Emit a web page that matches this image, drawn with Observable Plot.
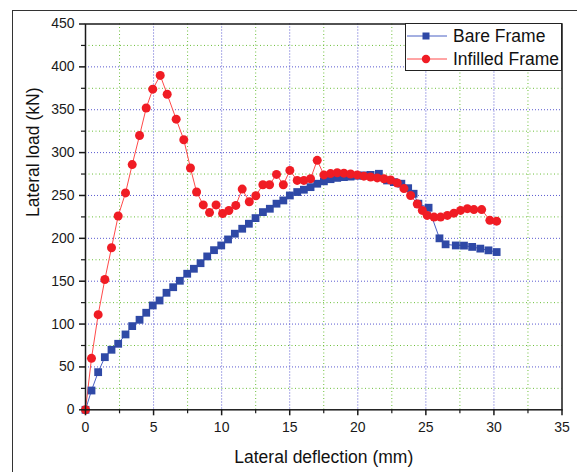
<!DOCTYPE html>
<html>
<head>
<meta charset="utf-8">
<script src="https://cdn.jsdelivr.net/npm/d3@7"></script>
<script src="https://cdn.jsdelivr.net/npm/@observablehq/plot@0.6"></script>
<style>
  html, body { margin: 0; padding: 0; background: #fff; }
  #wrap { position: relative; width: 577px; height: 472px; overflow: hidden; font-family: "Liberation Sans", Arial, sans-serif; }
  #outer { position: absolute; left: 12px; top: 10px; width: 600px; height: 500px; border-left: 1.5px solid #333; border-top: 1.5px solid #333; box-sizing: border-box; }
  #legend { position: absolute; left: 405px; top: 23px; width: 157px; height: 48px; background: #fff; border: 1.5px solid #222; box-sizing: border-box; }
  #legend .row { position: absolute; left: 0; height: 20px; display: flex; align-items: center; }
  #legend .row span { font-size: 17.5px; color: #111; margin-left: 5px; white-space: nowrap; }
  svg { position: absolute; left: 0; top: 0; }
</style>
</head>
<body>
<div id="wrap">
  <div id="outer"></div>
  <div id="chart"></div>
  <div id="legend"></div>
</div>
<script>
// ---- data ----
const bareX = [0, 0.44, 0.93, 1.42, 1.91, 2.40, 2.94, 3.43, 3.97, 4.46, 4.94, 5.44, 5.95, 6.44, 6.93, 7.47, 7.96, 8.45, 8.94, 9.44, 9.97, 10.47, 10.97, 11.51, 12.00, 12.49, 13.03, 13.54, 14.03, 14.53, 15.01, 15.55, 16.04, 16.53, 17.02, 17.51, 18.00, 18.49, 18.98, 19.47, 19.96, 20.45, 20.94, 21.55, 22.15, 22.65, 23.20, 23.70, 24.10, 24.45, 25.20, 26.00, 26.45, 27.20, 27.80, 28.40, 29.00, 29.60, 30.20];
const bareY = [0, 22.5, 43.9, 61.4, 70, 77, 87.9, 97.6, 105, 113.2, 121.7, 127.5, 136.5, 143, 150.5, 158.7, 164.5, 171, 178.9, 186.2, 191.7, 198.7, 205.4, 211.2, 217, 223.6, 230.6, 234.5, 240.4, 244.2, 250, 254, 256.7, 259.7, 263.7, 266.5, 269, 270.5, 271.4, 272, 273, 273.4, 274, 275.3, 267.5, 265.6, 263.7, 258.5, 252, 240.4, 235.7, 200, 193, 191.7, 191.5, 190, 188, 186, 184];

const infX = [0, 0.44, 0.93, 1.42, 1.91, 2.40, 2.94, 3.43, 3.97, 4.46, 4.94, 5.49, 6.00, 6.66, 7.22, 7.71, 8.16, 8.65, 9.11, 9.59, 10.07, 10.53, 11.04, 11.51, 12.03, 12.51, 13.03, 13.52, 14.03, 14.53, 15.01, 15.55, 16.04, 16.53, 17.02, 17.51, 18.00, 18.49, 18.98, 19.47, 19.96, 20.45, 20.94, 21.43, 21.92, 22.41, 22.90, 23.39, 23.88, 24.37, 24.74, 25.10, 25.60, 26.08, 26.58, 27.06, 27.55, 28.05, 28.53, 29.10, 29.70, 30.20];
const infY = [0, 60, 111, 152, 189, 226, 253, 286, 320, 352, 374, 390, 368, 339, 315, 282, 254, 239, 230, 239, 229, 232.5, 238.4, 257.4, 242.7, 249.7, 262.5, 262.5, 274.6, 262.5, 279.2, 267.6, 267.6, 269.5, 291, 274, 275.5, 276.5, 276, 275, 274, 272.5, 271.5, 270.5, 269.5, 268, 264.5, 258, 250, 240, 232.6, 226.7, 224.8, 224.8, 226.7, 229.4, 232.6, 234.6, 233.5, 233.5, 221, 220];

const seriesNames = ["Bare Frame", "Infilled Frame"];
const xMajor = [0, 5, 10, 15, 20, 25, 30, 35];
const xMinor = [2.5, 7.5, 12.5, 17.5, 22.5, 27.5, 32.5];
const yMajor = [0, 50, 100, 150, 200, 250, 300, 350, 400, 450];
const yMinor = [25, 75, 125, 175, 225, 275, 325, 375, 425];
const xTitle = "Lateral deflection (mm)";
const yTitle = "Lateral load (kN)";

// ---- build tables ----
const bare = bareX.map((x, i) => ({x, y: bareY[i]}));
const inf = infX.map((x, i) => ({x, y: infY[i]}));

const BLUE = "#2f49a6", BLUE_LINE = "#4a60c4";
const RED = "#f01c24", RED_LINE = "#ff4a4a";
const GRID_MAJ = "#5a5ad0", GRID_MIN = "#6cbf3a";
const FONT = "Liberation Sans, Arial, sans-serif";

const chart = Plot.plot({
  width: 577,
  height: 472,
  marginLeft: 85,
  marginRight: 15.5,
  marginTop: 23.5,
  marginBottom: 62.7,
  style: {fontFamily: FONT, background: "transparent", overflow: "visible"},
  x: {domain: [0, 35]},
  y: {domain: [0, 450]},
  marks: [
    Plot.gridX(xMinor, {stroke: GRID_MIN, strokeOpacity: 1, strokeWidth: 1, strokeDasharray: "1,2.5"}),
    Plot.gridY(yMinor, {stroke: GRID_MIN, strokeOpacity: 1, strokeWidth: 1, strokeDasharray: "1,2.5"}),
    Plot.gridX(xMajor.filter(d => d > 0 && d < 35), {stroke: GRID_MAJ, strokeOpacity: 1, strokeWidth: 1, strokeDasharray: "1,2"}),
    Plot.gridY(yMajor.filter(d => d > 0 && d < 450), {stroke: GRID_MAJ, strokeOpacity: 1, strokeWidth: 1, strokeDasharray: "1,2"}),
    Plot.line(bare, {x: "x", y: "y", stroke: BLUE_LINE, strokeWidth: 1}),
    Plot.line(inf, {x: "x", y: "y", stroke: RED_LINE, strokeWidth: 1}),
    Plot.dot(bare, {x: "x", y: "y", symbol: "square", r: 4.4, fill: BLUE, stroke: "none"}),
    Plot.dot(inf, {x: "x", y: "y", symbol: "circle", r: 4.5, fill: RED, stroke: "none"}),
    Plot.frame({stroke: "#1a1a1a", strokeWidth: 1.5}),
    Plot.axisX(xMajor, {tickSize: 6, tickPadding: 6, fontSize: 14, fill: "#1a1a1a", stroke: "#1a1a1a", strokeWidth: 1.5, label: null, tickFormat: d => String(d)}),
    Plot.axisX(xMinor, {tickSize: 4, tickFormat: () => "", stroke: "#1a1a1a", strokeWidth: 1.2, label: null}),
    Plot.axisY(yMajor, {tickSize: 6, tickPadding: 5, fontSize: 14, fill: "#1a1a1a", stroke: "#1a1a1a", strokeWidth: 1.5, label: null, tickFormat: d => String(d)}),
    Plot.axisY(yMinor, {tickSize: 4, tickFormat: () => "", stroke: "#1a1a1a", strokeWidth: 1.2, label: null}),
    Plot.text([xTitle], {frameAnchor: "bottom", dy: 48, fontSize: 17.5, fill: "#111", lineAnchor: "middle"}),
    Plot.text([yTitle], {frameAnchor: "left", dx: -52, rotate: -90, fontSize: 17.5, fill: "#111", lineAnchor: "middle"})
  ]
});
document.getElementById("chart").appendChild(chart);

// ---- legend ----
const legend = document.getElementById("legend");
const symbols = [
  {name: seriesNames[0], line: BLUE_LINE, fill: BLUE, shape: "square", top: 2},
  {name: seriesNames[1], line: RED_LINE, fill: RED, shape: "circle", top: 25}
];
for (const s of symbols) {
  const row = document.createElement("div");
  row.className = "row";
  row.style.top = s.top + "px";
  const mark = s.shape === "square"
    ? `<rect x="16.5" y="6.5" width="7" height="7" fill="${s.fill}"/>`
    : `<circle cx="20" cy="10" r="4.2" fill="${s.fill}"/>`;
  row.innerHTML = `<svg width="42" height="20" style="position:static"><line x1="1" x2="41" y1="10" y2="10" stroke="${s.line}" stroke-width="1"/>${mark}</svg><span>${s.name}</span>`;
  legend.appendChild(row);
}
</script>
</body>
</html>
